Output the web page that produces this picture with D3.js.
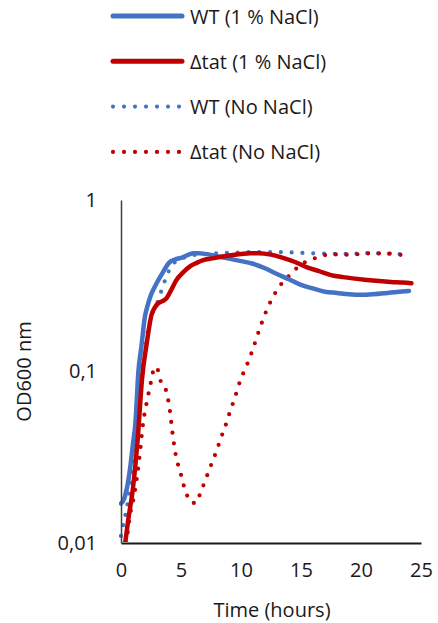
<!DOCTYPE html>
<head>
  <meta charset="utf-8">
  <script src="https://d3js.org/d3.v7.min.js"></script>
  <style>
    body { margin:0; background:#fff; }
    text { font-family: "Open Sans", sans-serif; fill:#1a1a1a; }
  </style>
</head>
<body>
  <div class="body"></div>
  <script>
    // series names, colours and dash style (solid / dotted)
    const seriesNames = ["WT (1 % NaCl)", "\u0394tat (1 % NaCl)", "WT (No NaCl)", "\u0394tat (No NaCl)"];
    const seriesColors = ["#4472c4", "#c00000", "#4472c4", "#c00000"];
    const seriesDotted = [false, false, true, true];

    const xTicks = [0, 5, 10, 15, 20, 25];
    const yTicks = [0.01, 0.1, 1];
    const yTickLabels = ["0,01", "0,1", "1"];

    // WT 1 % NaCl
    const wt1Time = [0, 0.25, 0.5, 0.75, 1.0, 1.2, 1.45, 1.7, 2.0, 2.2, 2.5, 3.0, 3.5, 4.0, 4.5, 5.0, 5.5, 6.0, 6.5, 7.0, 8, 9, 10, 11, 12, 13, 14, 15, 16, 17, 18, 19, 20, 21, 22, 23, 24];
    const wt1OD = [0.017, 0.018, 0.021, 0.027, 0.038, 0.050, 0.10, 0.14, 0.21, 0.24, 0.28, 0.33, 0.38, 0.43, 0.45, 0.46, 0.475, 0.49, 0.49, 0.485, 0.47, 0.455, 0.44, 0.425, 0.40, 0.37, 0.345, 0.32, 0.305, 0.292, 0.287, 0.282, 0.28, 0.282, 0.286, 0.291, 0.295];

    // Δtat 1 % NaCl
    const tat1Time = [0.35, 0.6, 1.0, 1.4, 1.75, 2.15, 2.55, 2.8, 3.1, 3.5, 3.8, 4.2, 4.6, 5.2, 5.75, 6.3, 6.85, 7.5, 8.25, 9, 10, 10.75, 11.5, 12.5, 13.5, 14.5, 15.5, 16.5, 17.5, 18.5, 19.5, 20.5, 21.5, 22.5, 23.5, 24.2];
    const tat1OD = [0.01, 0.0136, 0.021, 0.041, 0.09, 0.147, 0.215, 0.235, 0.25, 0.258, 0.268, 0.30, 0.34, 0.38, 0.41, 0.43, 0.446, 0.455, 0.465, 0.475, 0.485, 0.49, 0.49, 0.48, 0.46, 0.435, 0.405, 0.385, 0.365, 0.355, 0.348, 0.342, 0.337, 0.333, 0.33, 0.327];

    // WT no NaCl
    const wt0Time = [0, 0.2, 0.4, 0.6, 0.9, 1.3, 1.6, 2.0, 2.25, 2.55, 3.1, 3.4, 3.7, 4.1, 4.6, 5.2, 6.3, 7.5, 8.25, 9.5, 10.9, 12.7, 14, 15.5, 17, 18.25, 19.5, 20.75, 22, 23.4, 24];
    const wt0OD = [0.011, 0.013, 0.015, 0.018, 0.027, 0.047, 0.083, 0.13, 0.175, 0.21, 0.26, 0.30, 0.345, 0.40, 0.44, 0.46, 0.48, 0.485, 0.49, 0.493, 0.497, 0.497, 0.495, 0.49, 0.487, 0.485, 0.487, 0.49, 0.487, 0.484, 0.483];

    // Δtat no NaCl
    const tat0Time = [0.45, 0.75, 1.1, 1.5, 1.86, 2.2, 2.56, 2.78, 3.0, 3.25, 3.72, 3.92, 4.06, 4.27, 4.55, 5.0, 5.2, 5.5, 5.8, 6.25, 6.55, 6.9, 7.2, 7.55, 7.86, 8.17, 8.47, 8.78, 9.05, 9.35, 9.64, 9.9, 10.25, 10.6, 10.94, 11.5, 12.14, 12.97, 13.5, 14.17, 14.8, 15.6, 16.4, 17.4, 19.1, 20.8, 22.5, 23.4, 24];
    const tat0OD = [0.01, 0.0145, 0.019, 0.03, 0.051, 0.069, 0.091, 0.106, 0.105, 0.09, 0.079, 0.069, 0.06, 0.045, 0.033, 0.025, 0.022, 0.019, 0.0173, 0.0171, 0.019, 0.022, 0.025, 0.029, 0.033, 0.038, 0.0436, 0.05, 0.0574, 0.066, 0.076, 0.087, 0.1, 0.114, 0.132, 0.173, 0.228, 0.296, 0.333, 0.37, 0.41, 0.443, 0.463, 0.482, 0.48, 0.489, 0.487, 0.478, 0.476];

    const seriesTime = [wt1Time, tat1Time, wt0Time, tat0Time];
    const seriesOD = [wt1OD, tat1OD, wt0OD, tat0OD];

    const W = 438, H = 623;
    const margin = {top: 200, right: 17, bottom: 80, left: 121};
    const width = W - margin.left - margin.right,
          height = H - margin.top - margin.bottom;

    const x = d3.scaleLinear().domain([0, 25]).range([0, width]);
    const y = d3.scaleLog().domain([0.01, 1]).range([height, 0]);

    const root = d3.select(".body").append("svg")
      .attr("width", W)
      .attr("height", H);

    const svg = root.append("g")
      .attr("transform", "translate(" + margin.left + "," + margin.top + ")");

    svg.append("clipPath").attr("id", "plotclip")
      .append("rect").attr("x", -2).attr("y", -2).attr("width", width + 4).attr("height", height + 1);

    // lines (draw dotted first, solids on top of their dotted twins)
    const line = d3.line()
      .x(function(d){ return x(d[0]); })
      .y(function(d){ return y(d[1]); })
      .curve(d3.curveMonotoneX);

    const order = [2, 3, 0, 1];
    order.forEach(function(i){
      const pts = seriesTime[i].map(function(t, k){ return [t, seriesOD[i][k]]; });
      const p = svg.append("path")
        .datum(pts)
        .attr("clip-path", "url(#plotclip)")
        .attr("fill", "none")
        .attr("stroke", seriesColors[i])
        .attr("stroke-linecap", "round")
        .attr("stroke-linejoin", "round")
        .attr("d", line);
      if (seriesDotted[i]) {
        p.attr("stroke-width", 4.2).attr("stroke-dasharray", "0 10.8");
      } else {
        p.attr("stroke-width", 4.5);
      }
    });

    // axes
    const xAxis = svg.append("g")
      .attr("transform", "translate(0," + height + ")")
      .call(d3.axisBottom(x).tickValues(xTicks).tickSize(0).tickPadding(20));
    xAxis.select(".domain").attr("stroke", "#1a1a1a").attr("stroke-width", 2);
    xAxis.selectAll("text").attr("font-size", 20).attr("font-family", "Open Sans").attr("fill", "#1a1a1a");

    const yAxis = svg.append("g")
      .call(d3.axisLeft(y).tickValues(yTicks).tickSize(0).tickPadding(24)
        .tickFormat(function(d, i){ return yTickLabels[i]; }));
    yAxis.select(".domain").attr("stroke", "#404040").attr("stroke-width", 1.5);
    yAxis.selectAll("text").attr("font-size", 20).attr("font-family", "Open Sans").attr("fill", "#1a1a1a");

    // axis titles
    svg.append("text")
      .attr("x", width / 2 + 1)
      .attr("y", height + 74)
      .attr("text-anchor", "middle")
      .attr("font-size", 20)
      .text("Time (hours)");

    svg.append("text")
      .attr("transform", "translate(" + (23 - margin.left) + "," + (height / 2) + ") rotate(-90)")
      .attr("text-anchor", "middle")
      .attr("dominant-baseline", "central")
      .attr("font-size", 20)
      .text("OD600 nm");

    // legend
    const legend = root.append("g").attr("transform", "translate(113,16)");
    seriesNames.forEach(function(name, i){
      const row = legend.append("g").attr("transform", "translate(0," + (i * 45.3) + ")");
      const l = row.append("line")
        .attr("x1", 0).attr("x2", 69)
        .attr("y1", 0).attr("y2", 0)
        .attr("stroke", seriesColors[i])
        .attr("stroke-linecap", "round");
      if (seriesDotted[i]) {
        l.attr("stroke-width", 4.2).attr("stroke-dasharray", "0 11");
      } else {
        l.attr("stroke-width", 5);
      }
      row.append("text")
        .attr("x", 77)
        .attr("y", 0)
        .attr("dominant-baseline", "central")
        .attr("font-size", 20)
        .text(name);
    });
  </script>
</body>
